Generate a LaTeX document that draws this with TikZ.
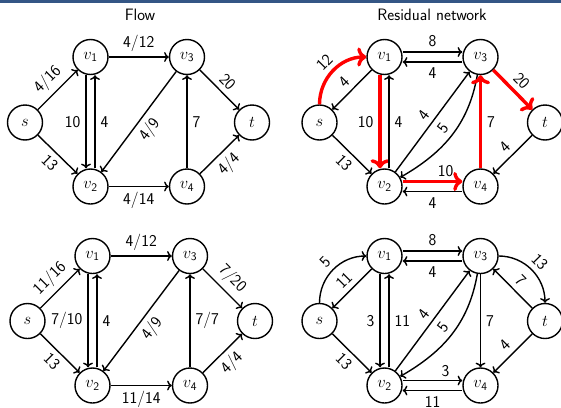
\RequirePackage{fix-cm}
\documentclass[tikz,border=0pt]{standalone}
\usetikzlibrary{arrows.meta}
\definecolor{barblue}{RGB}{52,86,133}
\tikzset{
  vtx/.style={circle, draw, line width=1.4pt, minimum size=35pt, inner sep=0pt, font=\fontsize{16.5}{19}\selectfont},
  edge/.style={->, line width=1.4pt},
  redge/.style={->, line width=3.4pt, red},
  lbl/.style={font=\fontsize{16.5}{19}\selectfont\sffamily, inner sep=5pt, text=black},
  ttl/.style={font=\fontsize{16.5}{19}\selectfont\sffamily}
}
\newcommand{\vv}[1]{$v_{\mathsf{#1}}$}
\begin{document}
\begin{tikzpicture}[x=1pt,y=1pt]
\useasboundingbox (0,0) rectangle (561,-407);
\fill[barblue] (0,0) rectangle (561,-3);
\node[ttl] (title1) at (140,-14.5) {Flow};
\node[ttl] (title2) at (432,-14.5) {Residual network};

% ---------- top-left: flow ----------
\node[vtx] (as)  at (25,-122.5)  {$s$};
\node[vtx] (av1) at (90.5,-57)   {\vv1};
\node[vtx] (av3) at (187,-57)    {\vv3};
\node[vtx] (at)  at (252,-122.5) {$t$};
\node[vtx] (av2) at (90.5,-186.5) {\vv2};
\node[vtx] (av4) at (187,-186.5) {\vv4};
\draw[edge] (as) -- node[lbl,above,sloped]{4/16} (av1);
\draw[edge] (as) -- node[lbl,below,sloped]{13} (av2);
\draw[edge] ([xshift=-4.5pt]av1.south) -- node[lbl,left]{10} ([xshift=-4.5pt]av2.north);
\draw[edge] ([xshift=4.5pt]av2.north) -- node[lbl,right]{4} ([xshift=4.5pt]av1.south);
\draw[edge] (av1) -- node[lbl,above]{4/12} (av3);
\draw[edge] (av3) -- node[lbl,below,sloped]{4/9} (av2);
\draw[edge] (av4) -- node[lbl,right]{7} (av3);
\draw[edge] (av3) -- node[lbl,above,sloped]{20} (at);
\draw[edge] (av2) -- node[lbl,below]{4/14} (av4);
\draw[edge] (av4) -- node[lbl,below,sloped]{4/4} (at);

% ---------- top-right: residual ----------
\node[vtx] (bs)  at (319.5,-122.5) {$s$};
\node[vtx] (bv1) at (384.5,-57)    {\vv1};
\node[vtx] (bv3) at (480.5,-57)    {\vv3};
\node[vtx] (bt)  at (545,-122.5)   {$t$};
\node[vtx] (bv2) at (384.5,-186.5) {\vv2};
\node[vtx] (bv4) at (480.5,-186.5) {\vv4};
\draw[redge] (bs) to[out=90,in=180] node[lbl,above,sloped]{12} (bv1);
\draw[edge] (bv1) -- node[lbl,above,sloped]{4} (bs);
\draw[edge] ([yshift=5pt]bv1.east) -- node[lbl,above]{8} ([yshift=5pt]bv3.west);
\draw[edge] ([yshift=-5pt]bv3.west) -- node[lbl,below]{4} ([yshift=-5pt]bv1.east);
\draw[redge] ([xshift=-4.5pt]bv1.south) -- node[lbl,left]{10} ([xshift=-4.5pt]bv2.north);
\draw[edge] ([xshift=4.5pt]bv2.north) -- node[lbl,right]{4} ([xshift=4.5pt]bv1.south);
\draw[edge] (bv2) -- node[lbl,above,sloped]{4} (bv3);
\draw[edge] (bv3) to[out=-100,in=30] node[lbl,above,sloped]{5} (bv2);
\draw[redge] ([yshift=5pt]bv2.east) -- node[lbl,above,pos=0.72,inner sep=3pt]{10} ([yshift=5pt]bv4.west);
\draw[edge] ([yshift=-5pt]bv4.west) -- node[lbl,below]{4} ([yshift=-5pt]bv2.east);
\draw[redge] (bv4) -- node[lbl,right]{7} (bv3);
\draw[redge] (bv3) -- node[lbl,above,sloped]{20} (bt);
\draw[edge] (bt) -- node[lbl,above,sloped]{4} (bv4);
\draw[edge] (bs) -- node[lbl,below,sloped]{13} (bv2);

% ---------- bottom-left: flow ----------
\node[vtx] (cs)  at (27.5,-321)  {$s$};
\node[vtx] (cv1) at (92.5,-256)  {\vv1};
\node[vtx] (cv3) at (190,-256)   {\vv3};
\node[vtx] (ct)  at (255,-321)   {$t$};
\node[vtx] (cv2) at (92.5,-385.5) {\vv2};
\node[vtx] (cv4) at (190,-385.5) {\vv4};
\draw[edge] (cs) -- node[lbl,above,sloped]{11/16} (cv1);
\draw[edge] (cs) -- node[lbl,below,sloped]{13} (cv2);
\draw[edge] ([xshift=-4.5pt]cv1.south) -- node[lbl,left]{7/10} ([xshift=-4.5pt]cv2.north);
\draw[edge] ([xshift=4.5pt]cv2.north) -- node[lbl,right]{4} ([xshift=4.5pt]cv1.south);
\draw[edge] (cv1) -- node[lbl,above]{4/12} (cv3);
\draw[edge] (cv3) -- node[lbl,below,sloped]{4/9} (cv2);
\draw[edge] (cv4) -- node[lbl,right]{7/7} (cv3);
\draw[edge] (cv3) -- node[lbl,above,sloped]{7/20} (ct);
\draw[edge] (cv2) -- node[lbl,below]{11/14} (cv4);
\draw[edge] (cv4) -- node[lbl,below,sloped]{4/4} (ct);

% ---------- bottom-right: residual ----------
\node[vtx] (ds)  at (319.5,-321)  {$s$};
\node[vtx] (dv1) at (384.5,-256)  {\vv1};
\node[vtx] (dv3) at (480.5,-256)  {\vv3};
\node[vtx] (dt)  at (545,-321)    {$t$};
\node[vtx] (dv2) at (384.5,-385.5) {\vv2};
\node[vtx] (dv4) at (480.5,-385.5) {\vv4};
\draw[edge] (ds) to[out=90,in=180] node[lbl,above,sloped]{5} (dv1);
\draw[edge] (dv1) -- node[lbl,above,sloped]{11} (ds);
\draw[edge] ([yshift=5pt]dv1.east) -- node[lbl,above]{8} ([yshift=5pt]dv3.west);
\draw[edge] ([yshift=-5pt]dv3.west) -- node[lbl,below]{4} ([yshift=-5pt]dv1.east);
\draw[edge] ([xshift=-4.5pt]dv1.south) -- node[lbl,left]{3} ([xshift=-4.5pt]dv2.north);
\draw[edge] ([xshift=4.5pt]dv2.north) -- node[lbl,right]{11} ([xshift=4.5pt]dv1.south);
\draw[edge] (dv2) -- node[lbl,above,sloped]{4} (dv3);
\draw[edge] (dv3) to[out=-100,in=30] node[lbl,above,sloped]{5} (dv2);
\draw[edge] ([yshift=5pt]dv2.east) -- node[lbl,above,pos=0.72,inner sep=3pt]{3} ([yshift=5pt]dv4.west);
\draw[edge] ([yshift=-5pt]dv4.west) -- node[lbl,below]{11} ([yshift=-5pt]dv2.east);
\draw[edge] (dv3) -- node[lbl,right]{7} (dv4);
\draw[edge] (dv3) to[out=0,in=90] node[lbl,above,sloped]{13} (dt);
\draw[edge] (dt) -- node[lbl,above,sloped]{7} (dv3);
\draw[edge] (dt) -- node[lbl,above,sloped]{4} (dv4);
\draw[edge] (ds) -- node[lbl,below,sloped]{13} (dv2);
\end{tikzpicture}
\end{document}
